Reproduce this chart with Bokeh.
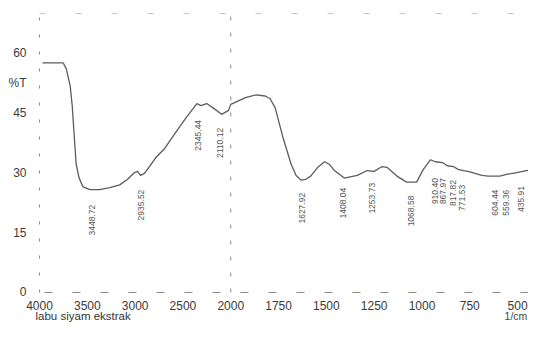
import math
from bokeh.plotting import figure
from bokeh.models import (ColumnDataSource, FixedTicker, Label, Range1d,
                          CustomJSTransform)
from bokeh.transform import transform
from bokeh.core.properties import value
from bokeh.embed import file_html
from bokeh.resources import INLINE

# ---- data (wavenumber in 1/cm, transmittance in %T) ----
wavenumber = [3969, 3752, 3720, 3679, 3658, 3638, 3617, 3586, 3545, 3472, 3369,
              3265, 3161, 3079, 3006, 2975, 2944, 2903, 2851, 2778, 2696, 2592,
              2468, 2354, 2313, 2251, 2178, 2095, 2023, 2000,
              1923, 1866, 1820, 1794, 1768, 1727, 1685, 1659, 1633, 1608, 1582,
              1545, 1509, 1483, 1458, 1406, 1338, 1287, 1250, 1209, 1183, 1131,
              1080, 1028, 993, 956, 930, 893, 867, 836, 811, 785, 759, 723, 686,
              655, 593, 552, 505, 454, 402]
transmittance = [57.6, 57.6, 56.1, 51.8, 46.9, 39.6, 32.3, 28.7, 26.5, 25.8, 25.8,
                 26.3, 27.0, 28.4, 30.1, 30.4, 29.4, 29.9, 31.6, 34.0, 36.0, 39.6,
                 43.8, 47.4, 46.9, 47.4, 46.2, 44.7, 45.7, 47.2,
                 48.9, 49.6, 49.3, 48.6, 46.4, 38.9, 32.3, 29.4, 28.2, 28.4, 29.2,
                 31.4, 32.8, 32.1, 30.6, 28.7, 29.4, 30.6, 30.4, 31.6, 31.4, 29.2,
                 27.7, 27.7, 30.9, 33.3, 32.8, 32.6, 31.8, 31.6, 30.9, 30.6, 30.4,
                 29.9, 29.4, 29.2, 29.2, 29.7, 30.1, 30.6, 30.9]

peak_label = ["3448.72", "2935.52", "2345.44", "2110.12", "1627.92", "1408.04",
              "1253.73", "1068.58", "910.40", "867.97", "817.82", "771.53",
              "604.44", "559.36", "435.91"]
# where each printed label sits on the chart (wavenumber, %T at the label's upper end)
peak_label_at = [3448.72, 2935.52, 2345.44, 2110.12, 1628, 1411, 1261, 1059,
                 930, 888, 836, 790, 619, 562, 480]
peak_label_top = [22.0, 25.8, 43.3, 41.3, 25.0, 26.3, 27.5, 24.3, 28.7, 28.7,
                  28.2, 27.0, 25.8, 25.8, 26.7]

x_tick_values = [4000, 3500, 3000, 2500, 2000, 1750, 1500, 1250, 1000, 750, 500]
y_tick_values = [0, 15, 30, 45, 60]
y_unit_label = "%T"
x_unit_label = "1/cm"
sample_name = "labu siyam ekstrak"

BREAK = 2000.0
X_START = 4000.0
X_END = 443.0
Y_TOP = 70.0
Y_BOTTOM_ROOM = 7.78        # room (in %T) under the axis for tick labels and captions
LEFT_MARGIN_UNITS = 204.0   # room (in axis units) left of 4000 for the %T labels


def to_axis(v):
    v = float(v)
    return BREAK + (v - BREAK) / 2.0 if v >= BREAK else v


split_axis = CustomJSTransform(
    func="return x >= 2000 ? 2000 + (x - 2000) / 2 : x;",
    v_func="const out = new Float64Array(xs.length);"
           "for (let i = 0; i < xs.length; i++) { const x = xs[i];"
           " out[i] = x >= 2000 ? 2000 + (x - 2000) / 2 : x; }"
           "return out;")

FONT = "Liberation Sans"
FRAME_GREY = "#8a8a8a"

p = figure(width=528, height=323, output_backend="svg", toolbar_location=None,
           x_range=Range1d(to_axis(X_START) + LEFT_MARGIN_UNITS, X_END),
           y_range=Range1d(-Y_BOTTOM_ROOM, Y_TOP),
           min_border_left=0, min_border_right=0, min_border_top=13,
           min_border_bottom=0)
p.xgrid.visible = False
p.ygrid.visible = False
p.background_fill_color = "white"
p.border_fill_color = "white"
p.outline_line_color = None

# dashed frame pieces of the printout: top edge and the 2000 1/cm scale break
p.segment(x0=[to_axis(X_START)], y0=[Y_TOP], x1=[X_END], y1=[Y_TOP],
          line_color=FRAME_GREY, line_dash="6 30", line_width=1)
p.segment(x0=[to_axis(BREAK)], y0=[0], x1=[to_axis(BREAK)], y1=[Y_TOP],
          line_color=FRAME_GREY, line_dash="4 12", line_width=1)

spec = ColumnDataSource(dict(wn=wavenumber, T=transmittance))
p.line(x=transform("wn", split_axis), y="T", source=spec,
       line_color="#5c5c5c", line_width=1.3)

peaks = ColumnDataSource(dict(wn=peak_label_at, top=peak_label_top,
                              label=peak_label))
p.text(x=transform("wn", split_axis), y="top", text="label", source=peaks,
       angle=math.pi / 2, text_align="right", text_baseline="middle",
       text_font=value(FONT), text_font_size="8.5px", text_color="#555555")

# x axis drawn at %T = 0
p.xaxis.fixed_location = 0
p.xaxis.bounds = (to_axis(X_START), X_END)
p.xaxis.ticker = FixedTicker(ticks=[to_axis(v) for v in x_tick_values])
p.xaxis.major_label_overrides = {to_axis(v): str(v) for v in x_tick_values}
p.xaxis.major_label_text_font = FONT
p.xaxis.major_label_text_font_size = "12px"
p.xaxis.major_label_text_color = "#3a3a3a"
p.xaxis.major_label_standoff = 3
p.xaxis.major_tick_line_color = None
p.xaxis.minor_tick_line_color = None
p.xaxis.axis_line_color = FRAME_GREY
p.xaxis.axis_line_dash = "8 20"

# y axis drawn at 4000 1/cm
p.yaxis.fixed_location = to_axis(X_START)
p.yaxis.bounds = (0, Y_TOP)
p.yaxis.ticker = FixedTicker(ticks=[float(v) for v in y_tick_values] + [52.5])
p.yaxis.major_label_overrides = {52.5: y_unit_label}
p.yaxis.major_label_text_font = FONT
p.yaxis.major_label_text_font_size = "12px"
p.yaxis.major_label_text_color = "#3a3a3a"
p.yaxis.major_label_standoff = 7
p.yaxis.major_tick_line_color = None
p.yaxis.minor_tick_line_color = None
p.yaxis.axis_line_color = FRAME_GREY
p.yaxis.axis_line_dash = "3 14"

p.add_layout(Label(x=to_axis(X_START) + 21, y=-6.0, text=sample_name,
                   text_font=FONT, text_font_size="11.5px", text_color="#333333",
                   text_align="left", text_baseline="middle"))
p.add_layout(Label(x=449, y=-7.5, text=x_unit_label,
                   text_font=FONT, text_font_size="10.5px", text_color="#444444",
                   text_align="right", text_baseline="bottom"))

open("out.html", "w").write(file_html(p, INLINE))
